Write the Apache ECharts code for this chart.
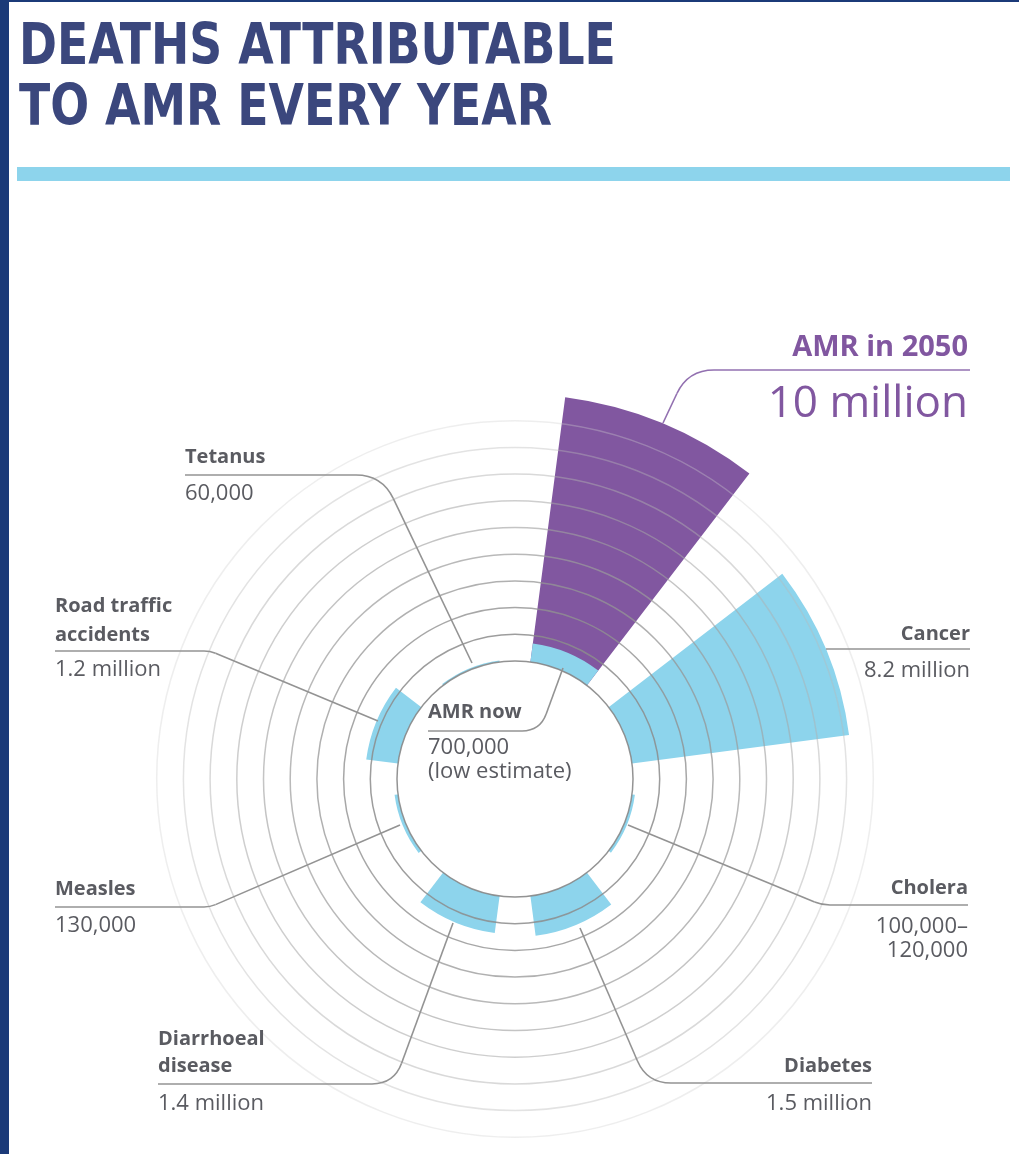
<!DOCTYPE html>
<html><head><meta charset="utf-8">
<script src="https://cdn.jsdelivr.net/npm/echarts@6/dist/echarts.min.js"></script>
<style>html,body{margin:0;padding:0;background:#fff}#c{width:1019px;height:1154px}</style>
</head><body><div id="c"></div>
<script>
// ---- data (millions of deaths per year) ----
const categories = ['AMR', 'Cancer', 'Cholera', 'Diabetes', 'Diarrhoeal disease', 'Measles', 'Road traffic accidents', 'Tetanus'];
const deathsNow = [0.7, 8.2, 0.11, 1.5, 1.4, 0.13, 1.2, 0.06];
const amr2050 = [10, null, null, null, null, null, null, null];
const ringMax = 10;
const ringStep = 1;

// ---- style ----
const CYAN = '#8dd4ec', PURPLE = '#8157a0', NAVY = '#3b477d', TXT = '#5a5b61';
const LBL = 'Open Sans, "Noto Sans", sans-serif';
const TITLEF = '"Liberation Sans Narrow", "DejaVu Sans Condensed", "DejaVu Sans", sans-serif';
const ringColors = [
  'rgba(135,135,135,0.9)', 'rgba(140,140,140,0.85)', 'rgba(145,145,145,0.8)', 'rgba(150,150,150,0.75)',
  'rgba(155,155,155,0.7)', 'rgba(160,160,160,0.62)', 'rgba(165,165,165,0.55)', 'rgba(175,175,175,0.48)',
  'rgba(185,185,185,0.4)', 'rgba(205,205,205,0.35)', 'rgba(0,0,0,0)'
];

function leader(pts, r, color, width) {
  const els = [];
  const style = { stroke: color, lineWidth: width, fill: null };
  let prev = pts[0];
  for (let i = 1; i < pts.length; i++) {
    const p = pts[i];
    if (i < pts.length - 1) {
      const n = pts[i + 1];
      const d1 = Math.hypot(p[0] - prev[0], p[1] - prev[1]);
      const d2 = Math.hypot(n[0] - p[0], n[1] - p[1]);
      const rr = Math.min(r, d1 / 2, d2 / 2);
      const a = [p[0] - (p[0] - prev[0]) / d1 * rr, p[1] - (p[1] - prev[1]) / d1 * rr];
      const b = [p[0] + (n[0] - p[0]) / d2 * rr, p[1] + (n[1] - p[1]) / d2 * rr];
      els.push({ type: 'line', z: 10, shape: { x1: prev[0], y1: prev[1], x2: a[0], y2: a[1] }, style: Object.assign({}, style) });
      els.push({ type: 'bezierCurve', z: 10, shape: { x1: a[0], y1: a[1], x2: b[0], y2: b[1], cpx1: p[0], cpy1: p[1] }, style: Object.assign({}, style) });
      prev = b;
    } else {
      els.push({ type: 'line', z: 10, shape: { x1: prev[0], y1: prev[1], x2: p[0], y2: p[1] }, style: Object.assign({}, style) });
    }
  }
  return els;
}
function txt(x, y, s, size, weight, align, color, family) {
  return { type: 'text', z: 11, style: { x: x, y: y, text: s, font: weight + ' ' + size + 'px ' + (family || LBL), fill: color || TXT, textAlign: align || 'left', textVerticalAlign: 'middle' } };
}
function title(x, y, s) {
  return { type: 'text', z: 11, x: x, y: y, scaleX: 0.893, style: { x: 0, y: 0, text: s, font: 'bold 57px ' + TITLEF, fill: NAVY, textAlign: 'left', textVerticalAlign: 'middle' } };
}

const LC = '#939393', LW = 1.6;
const NS = 20, VS = 22;
const graphics = [
  { type: 'rect', z: 1, shape: { x: 0, y: 0, width: 9, height: 1154 }, style: { fill: '#1b3a78' } },
  { type: 'rect', z: 1, shape: { x: 0, y: 0, width: 1019, height: 2 }, style: { fill: '#1b3a78' } },
  title(19, 49, 'DEATHS ATTRIBUTABLE'),
  title(19, 110, 'TO AMR EVERY YEAR'),
  { type: 'rect', z: 1, shape: { x: 17, y: 167, width: 993, height: 14 }, style: { fill: CYAN } },

  // Tetanus
  ...leader([[185, 475], [382, 475], [472, 663]], 26, LC, LW),
  txt(185, 457, 'Tetanus', NS, 'bold'), txt(185, 494, '60,000', VS, 'normal'),
  // Road traffic
  ...leader([[55, 651], [210, 651], [378, 721]], 6, LC, LW),
  txt(55, 606, 'Road traffic', NS, 'bold'), txt(55, 635, 'accidents', NS, 'bold'), txt(55, 670, '1.2 million', VS, 'normal'),
  // Measles
  ...leader([[55, 907], [210, 907], [400, 825]], 6, LC, LW),
  txt(55, 889, 'Measles', NS, 'bold'), txt(55, 926, '130,000', VS, 'normal'),
  // Diarrhoeal
  ...leader([[158, 1084], [394, 1084], [453, 923]], 22, LC, LW),
  txt(158, 1039, 'Diarrhoeal', NS, 'bold'), txt(158, 1066, 'disease', NS, 'bold'), txt(158, 1104, '1.4 million', VS, 'normal'),
  // Diabetes
  ...leader([[872, 1083], [647, 1083], [580, 928]], 24, LC, LW),
  txt(872, 1066, 'Diabetes', NS, 'bold', 'right'), txt(872, 1104, '1.5 million', VS, 'normal', 'right'),
  // Cholera
  ...leader([[968, 905], [822, 905], [628, 825]], 8, LC, LW),
  txt(968, 888, 'Cholera', NS, 'bold', 'right'), txt(968, 927, '100,000–', VS, 'normal', 'right'), txt(968, 951, '120,000', VS, 'normal', 'right'),
  // Cancer
  ...leader([[970, 649], [826, 649]], 0, LC, LW),
  txt(970, 634, 'Cancer', NS, 'bold', 'right'), txt(970, 671, '8.2 million', VS, 'normal', 'right'),
  // AMR 2050
  ...leader([[970, 370], [688, 370], [663, 423]], 26, '#9270b0', 1.6),
  txt(968, 348, 'AMR in 2050', 29, 'bold', 'right', PURPLE), txt(968, 404, '10 million', 44, 'normal', 'right', PURPLE),
  // AMR now
  ...leader([[428, 731], [540, 731], [563, 668]], 18, LC, LW),
  txt(428, 712, 'AMR now', NS, 'bold'), txt(428, 748, '700,000', VS, 'normal'), txt(428, 772, '(low estimate)', VS, 'normal')
];

const chart = echarts.init(document.getElementById('c'), null, { renderer: 'canvas' });
chart.setOption({
  animation: false,
  backgroundColor: '#ffffff',
  polar: { center: [515, 779], radius: [118, 385] },
  angleAxis: {
    type: 'category', data: categories, startAngle: 90, clockwise: true, boundaryGap: true,
    axisLine: { show: false }, axisTick: { show: false }, axisLabel: { show: false }, splitLine: { show: false }
  },
  radiusAxis: {
    type: 'value', min: 0, max: ringMax, interval: ringStep, z: 5,
    axisLine: { show: false }, axisTick: { show: false }, axisLabel: { show: false },
    splitLine: { show: true, lineStyle: { color: ringColors, width: 1.5 } }
  },
  series: [
    { type: 'bar', coordinateSystem: 'polar', name: 'AMR in 2050', data: amr2050, barCategoryGap: '33.3%', barGap: '-100%', itemStyle: { color: PURPLE }, z: 2 },
    { type: 'bar', coordinateSystem: 'polar', name: 'Now', data: deathsNow, barCategoryGap: '33.3%', barGap: '-100%', itemStyle: { color: CYAN }, z: 3 }
  ],
  graphic: { elements: graphics }
});
</script></body></html>
